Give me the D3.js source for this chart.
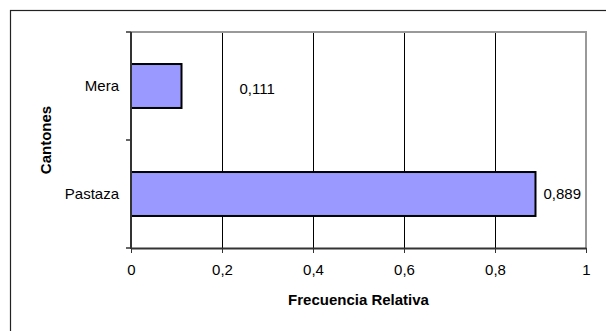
<!DOCTYPE html>
<html>
<head>
<meta charset="utf-8">
<script src="https://cdn.jsdelivr.net/npm/d3@7"></script>
<style>
  body { margin: 0; background: #fff; }
  text { font-family: Arial, "Liberation Sans", sans-serif; fill: #000; }
</style>
</head>
<body>
<div class="chart"></div>
<script>
var categories = ["Mera", "Pastaza"];
var values = [0.111, 0.889];
var valueLabels = ["0,111", "0,889"];
var xTicks = [0, 0.2, 0.4, 0.6, 0.8, 1];
var xTickLabels = ["0", "0,2", "0,4", "0,6", "0,8", "1"];

var W = 606, H = 331;
var plot = { left: 131, right: 586, top: 32, bottom: 248 };

var svg = d3.select(".chart").append("svg")
  .attr("width", W)
  .attr("height", H);

// outer chart frame (runs off the right / bottom edge)
svg.append("rect")
  .attr("x", 10.5).attr("y", 10.5)
  .attr("width", W + 20).attr("height", H + 20)
  .style("fill", "none")
  .style("stroke", "#222")
  .style("stroke-width", 1.2);

var x = d3.scaleLinear()
  .domain([0, 1])
  .range([plot.left, plot.right]);

var y = d3.scaleBand()
  .domain(categories)
  .range([plot.top, plot.bottom])
  .paddingInner(0.593)
  .paddingOuter(0.2965);

// vertical grid lines
svg.append("g")
  .selectAll("line")
  .data(xTicks.slice(1, -1))
  .enter().append("line")
  .attr("x1", function (d) { return Math.round(x(d)) + 0.5; })
  .attr("x2", function (d) { return Math.round(x(d)) + 0.5; })
  .attr("y1", plot.top)
  .attr("y2", plot.bottom)
  .style("stroke", "#000")
  .style("stroke-width", 1);

// plot area border top / right (gray)
svg.append("path")
  .attr("d", "M" + plot.left + "," + plot.top + "H" + plot.right + "V" + plot.bottom)
  .style("fill", "none")
  .style("stroke", "#999")
  .style("stroke-width", 2);

// bars
svg.append("g")
  .selectAll("rect")
  .data(values)
  .enter().append("rect")
  .attr("x", x(0))
  .attr("y", function (d, i) { return y(categories[i]); })
  .attr("width", function (d) { return x(d) - x(0); })
  .attr("height", y.bandwidth())
  .style("fill", "#9999ff")
  .style("stroke", "#000")
  .style("stroke-width", 2);

// x axis
var xAxis = d3.axisBottom(x)
  .tickValues(xTicks)
  .tickFormat(function (d, i) { return xTickLabels[i]; })
  .tickSizeInner(5)
  .tickSizeOuter(0)
  .tickPadding(11);

var gx = svg.append("g")
  .attr("transform", "translate(0," + plot.bottom + ")")
  .call(xAxis);
gx.select(".domain").style("stroke", "#333").style("stroke-width", 2);
gx.selectAll(".tick line").style("stroke", "#333");
gx.selectAll("text")
  .style("font-size", "15px")
  .style("font-family", "Arial, 'Liberation Sans', sans-serif");

// y axis: ticks on category boundaries
var gy = svg.append("g");
gy.append("line")
  .attr("x1", plot.left).attr("x2", plot.left)
  .attr("y1", plot.top).attr("y2", plot.bottom + 1)
  .style("stroke", "#333")
  .style("stroke-width", 2);
var bounds = [plot.top, (y(categories[0]) + y.bandwidth() + y(categories[1])) / 2, plot.bottom];
gy.selectAll(".ytick")
  .data(bounds)
  .enter().append("line")
  .attr("class", "ytick")
  .attr("x1", plot.left - 5).attr("x2", plot.left)
  .attr("y1", function (d) { return d; })
  .attr("y2", function (d) { return d; })
  .style("stroke", "#333")
  .style("stroke-width", 1.5);

gy.selectAll(".ylab")
  .data(categories)
  .enter().append("text")
  .attr("class", "ylab")
  .attr("x", 119)
  .attr("y", function (d) { return y(d) + y.bandwidth() / 2; })
  .attr("dy", "0.35em")
  .style("text-anchor", "end")
  .style("font-size", "15px")
  .text(function (d) { return d; });

// value labels
svg.append("g")
  .selectAll("text")
  .data(values)
  .enter().append("text")
  .attr("x", function (d, i) { return x(d) + (i === 0 ? 58 : 8); })
  .attr("y", function (d, i) { return y(categories[i]) + y.bandwidth() / 2 + (i === 0 ? 3 : 0); })
  .attr("dy", "0.35em")
  .style("font-size", "15px")
  .text(function (d, i) { return valueLabels[i]; });

// axis titles
svg.append("text")
  .attr("x", (plot.left + plot.right) / 2)
  .attr("y", 300)
  .attr("dy", "0.35em")
  .style("text-anchor", "middle")
  .style("font-size", "15px")
  .style("font-weight", "bold")
  .text("Frecuencia Relativa");

svg.append("text")
  .attr("transform", "translate(46," + ((plot.top + plot.bottom) / 2) + ")rotate(-90)")
  .attr("dy", "0.35em")
  .style("text-anchor", "middle")
  .style("font-size", "15px")
  .style("font-weight", "bold")
  .text("Cantones");
</script>
</body>
</html>
